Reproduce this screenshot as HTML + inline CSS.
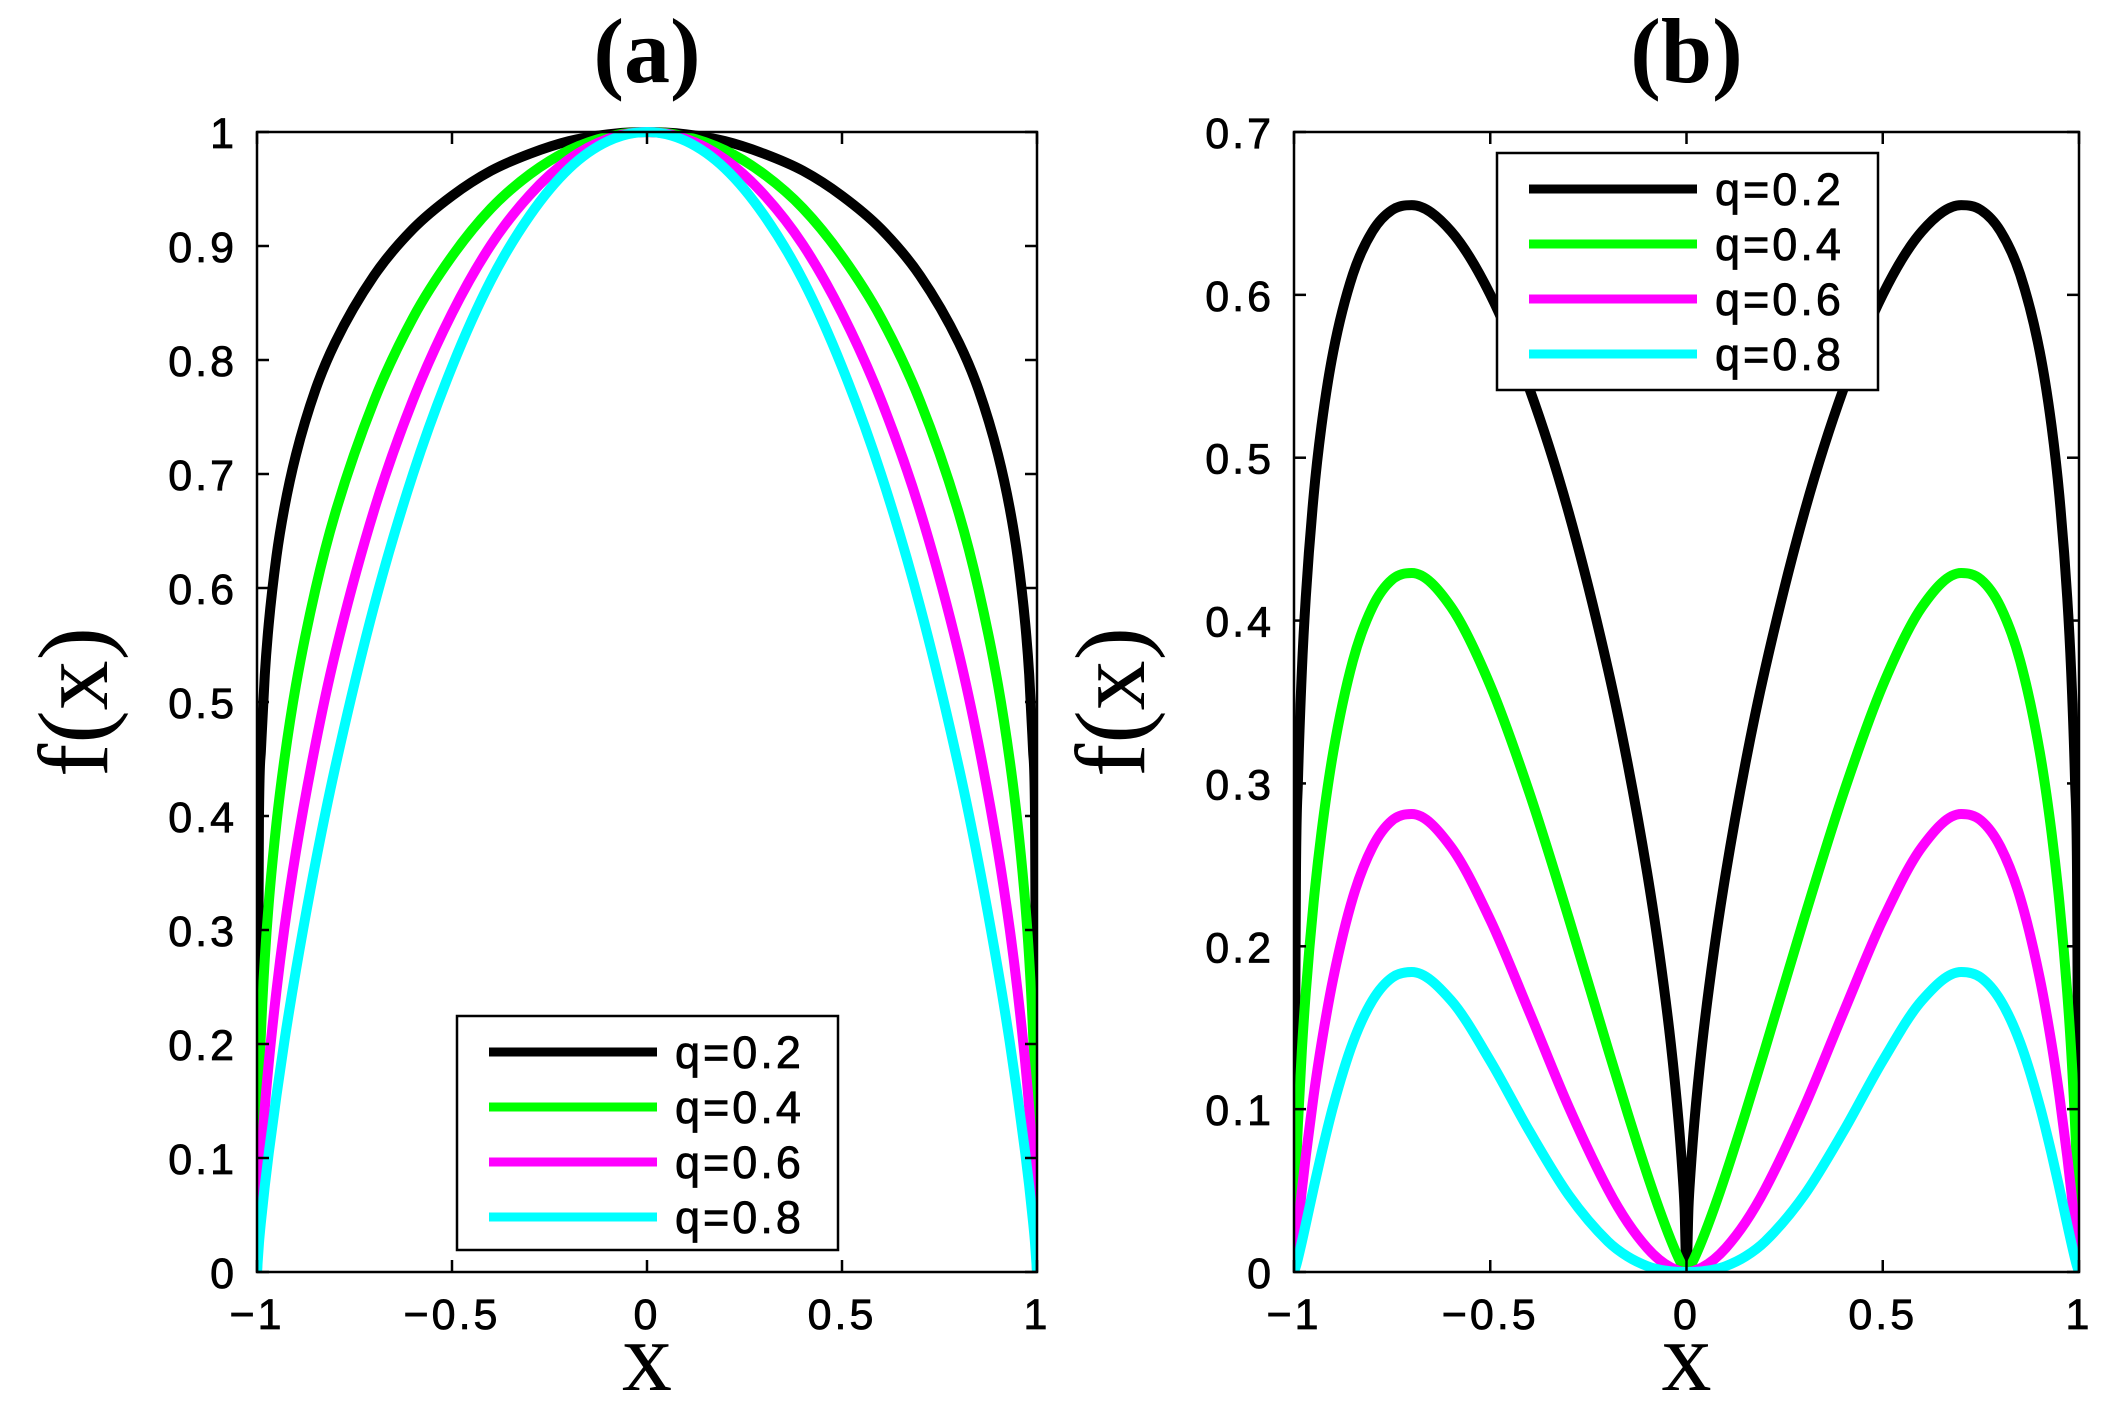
<!DOCTYPE html>
<html><head><meta charset="utf-8"><style>
html,body{margin:0;padding:0;background:#fff}
svg{display:block}
.tk{font-family:"Liberation Sans",sans-serif;font-size:43px;fill:#000;stroke:#000;stroke-width:0.8px;letter-spacing:3px}
.ttl{font-family:"Liberation Serif",serif;font-size:92px;font-weight:bold;fill:#000}
.lab{font-family:"Liberation Serif",serif;font-size:100px;fill:#000}
.lg{font-family:"Liberation Sans",sans-serif;font-size:45px;fill:#000;stroke:#000;stroke-width:0.8px;letter-spacing:3px}
</style></head><body>
<svg id="fig" width="2107" height="1406" viewBox="0 0 2107 1406" xmlns="http://www.w3.org/2000/svg"></svg>
<script>
// shared half-domain grids (curves are symmetric in x)
const xA = [0,0.1,0.2,0.3,0.4,0.5,0.6,0.7,0.8,0.85,0.9,0.93,0.95,0.97,0.98,0.99,0.995,1];
const aQ02 = [1,0.998,0.992,0.981,0.966,0.944,0.915,0.874,0.815,0.774,0.717,0.670,0.628,0.568,0.524,0.457,0.398,0];
const aQ04 = [1,0.996,0.984,0.963,0.933,0.891,0.837,0.764,0.665,0.599,0.515,0.449,0.394,0.323,0.275,0.209,0.158,0];
const aQ06 = [1,0.994,0.976,0.945,0.901,0.841,0.765,0.668,0.542,0.463,0.369,0.301,0.247,0.183,0.144,0.095,0.063,0];
const aQ08 = [1,0.992,0.968,0.927,0.870,0.794,0.700,0.584,0.442,0.359,0.265,0.202,0.155,0.104,0.0756,0.0436,0.0251,0];
const xB = [0,0.005,0.01,0.02,0.04,0.07,0.1,0.15,0.2,0.3,0.4,0.5,0.6,0.7,0.75,0.8,0.85,0.9,0.93,0.95,0.97,0.98,0.99,0.995,1];
const bQ02 = [0,0.0395,0.0602,0.0919,0.1403,0.1972,0.2447,0.3122,0.3700,0.4662,0.5422,0.6002,0.6391,0.6551,0.6521,0.6391,0.6126,0.5651,0.5195,0.4765,0.4142,0.3689,0.3010,0.2445,0];
const bQ04 = [0,0.0016,0.0036,0.0084,0.0197,0.0389,0.0599,0.0975,0.1369,0.2173,0.2940,0.3602,0.4084,0.4292,0.4252,0.4084,0.3753,0.3193,0.2699,0.2270,0.1716,0.1361,0.0906,0.0598,0];
const bQ06 = [0,0.00006,0.0002,0.0008,0.0028,0.0077,0.0147,0.0304,0.0507,0.1013,0.1594,0.2162,0.2610,0.2812,0.2773,0.2610,0.2299,0.1804,0.1402,0.1082,0.0711,0.0502,0.0273,0.0146,0];
const bQ08 = [0,0,0.00001,0.00007,0.0004,0.0015,0.0036,0.0095,0.0187,0.0472,0.0864,0.1297,0.1668,0.1842,0.1808,0.1668,0.1409,0.1020,0.0728,0.0515,0.0294,0.0185,0.0082,0.0036,0];
const seriesNames = ["q=0.2","q=0.4","q=0.6","q=0.8"];
const xTicks = [-1,-0.5,0,0.5,1];
const xTickLabels = ["\u22121","\u22120.5","0","0.5","1"];
const yTicksA = [0,0.1,0.2,0.3,0.4,0.5,0.6,0.7,0.8,0.9,1];
const yTickLabelsA = ["0","0.1","0.2","0.3","0.4","0.5","0.6","0.7","0.8","0.9","1"];
const yTicksB = [0,0.1,0.2,0.3,0.4,0.5,0.6,0.7];
const yTickLabelsB = ["0","0.1","0.2","0.3","0.4","0.5","0.6","0.7"];

const colors = ["#000000","#00ff00","#ff00ff","#00ffff"];
const NS = "http://www.w3.org/2000/svg";
const svg = document.getElementById('fig');
function mk(tag, attrs, parent){const e=document.createElementNS(NS,tag);for(const k in attrs)e.setAttribute(k,attrs[k]);(parent||svg).appendChild(e);return e;}

// monotone cubic (Fritsch-Carlson) path through data points in pixel space
function monoPath(X,Y){
  const n=X.length, d=[], m=new Array(n).fill(0);
  for(let i=0;i<n-1;i++) d.push((Y[i+1]-Y[i])/(X[i+1]-X[i]));
  m[0]=d[0]; m[n-1]=d[n-2];
  for(let i=1;i<n-1;i++){ m[i] = (d[i-1]*d[i]<=0)?0:(d[i-1]+d[i])/2; }
  for(let i=0;i<n-1;i++){
    if(d[i]===0){m[i]=0;m[i+1]=0;continue;}
    const a=m[i]/d[i], b=m[i+1]/d[i], s=a*a+b*b;
    if(s>9){const t=3/Math.sqrt(s);m[i]=t*a*d[i];m[i+1]=t*b*d[i];}
  }
  let p='M'+X[0].toFixed(2)+','+Y[0].toFixed(2);
  for(let i=0;i<n-1;i++){
    const h=(X[i+1]-X[i])/3;
    p+=' C'+(X[i]+h).toFixed(2)+','+(Y[i]+m[i]*h).toFixed(2)+' '+(X[i+1]-h).toFixed(2)+','+(Y[i+1]-m[i+1]*h).toFixed(2)+' '+X[i+1].toFixed(2)+','+Y[i+1].toFixed(2);
  }
  return p;
}

function panel(opt){
  const {L,R,T,B,ymax,xs,series,yTicks,yLabels,title,legend,id} = opt;
  const g = mk('g',{});
  
  
  const sx = v => L + (v+1)/2*(R-L);
  const sy = v => B - v/ymax*(B-T);
  mk('clipPath',{id:id+'-clip'},g).appendChild((()=>{const r=document.createElementNS(NS,'rect');r.setAttribute('x',L-1);r.setAttribute('y',T-6);r.setAttribute('width',R-L+2);r.setAttribute('height',B-T+7);return r;})());
  series.forEach((arr,i)=>{
    const X=[],Y=[];
    for(let k=xs.length-1;k>=0;k--){X.push(sx(-xs[k]));Y.push(sy(arr[k]));}
    for(let k=1;k<xs.length;k++){X.push(sx(xs[k]));Y.push(sy(arr[k]));}
    const p = mk('path',{d:monoPath(X,Y),fill:'none',stroke:colors[i],'stroke-width':10,'stroke-linejoin':'round','clip-path':'url(#'+id+'-clip)'},g);
    
    
  });
  const box = mk('rect',{x:L,y:T,width:R-L,height:B-T,fill:'none',stroke:'#000','stroke-width':2.5},g);
  
  
  const tl=12;
  xTicks.forEach((v,i)=>{
    const x=sx(v);
    mk('line',{x1:x,y1:B,x2:x,y2:B-tl,stroke:'#000','stroke-width':2.5},g);
    mk('line',{x1:x,y1:T,x2:x,y2:T+tl,stroke:'#000','stroke-width':2.5},g);
    const t=mk('text',{x:x,y:B+57,'text-anchor':'middle',class:'tk'},g);
    t.textContent=xTickLabels[i];
    
    
  });
  yTicks.forEach((v,i)=>{
    const y=sy(v);
    mk('line',{x1:L,y1:y,x2:L+tl,y2:y,stroke:'#000','stroke-width':2.5},g);
    mk('line',{x1:R,y1:y,x2:R-tl,y2:y,stroke:'#000','stroke-width':2.5},g);
    const t=mk('text',{x:L-20,y:y+16,'text-anchor':'end',class:'tk'},g);
    t.textContent=yLabels[i];
    
    
  });
  const tt=mk('text',{x:(L+R)/2,y:82,'text-anchor':'middle',class:'ttl'},g);
  tt.textContent=title;
  
  
  const xl=mk('text',{x:(L+R)/2,y:1390,'text-anchor':'middle',class:'lab'},g);
  xl.textContent='x';
  
  
  const yl=mk('text',{x:0,y:0,'text-anchor':'middle',class:'lab',transform:'translate('+(L-150)+','+((T+B)/2)+') rotate(-90)'},g);
  yl.textContent='f(x)';
  
  
  const lg=mk('g',{},g);
  
  
  mk('rect',{x:legend.x,y:legend.y,width:legend.w,height:legend.h,fill:'#fff',stroke:'#000','stroke-width':2.5},lg);
  seriesNames.forEach((n,i)=>{
    const ry=legend.y+36+i*55;
    const e=mk('g',{},lg);
    
    
    mk('line',{x1:legend.x+32,y1:ry,x2:legend.x+200,y2:ry,stroke:colors[i],'stroke-width':9},e);
    const t=mk('text',{x:legend.x+218,y:ry+16,class:'lg'},e);
    t.textContent=n;
  });
}
panel({id:'panel-a',L:257,R:1037,T:132,B:1272,ymax:1,xs:xA,series:[aQ02,aQ04,aQ06,aQ08],yTicks:yTicksA,yLabels:yTickLabelsA,title:'(a)',legend:{x:457,y:1016,w:381,h:234}});
panel({id:'panel-b',L:1294,R:2079,T:132,B:1272,ymax:0.7,xs:xB,series:[bQ02,bQ04,bQ06,bQ08],yTicks:yTicksB,yLabels:yTickLabelsB,title:'(b)',legend:{x:1497,y:153,w:381,h:237}});
</script>
</body></html>
